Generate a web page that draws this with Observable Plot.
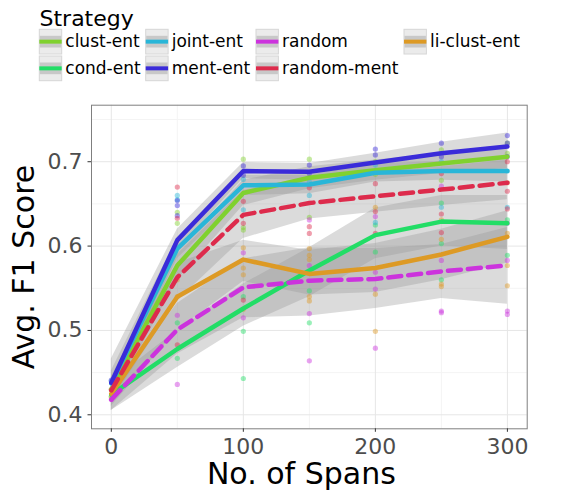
<!DOCTYPE html>
<html>
<head>
<meta charset="utf-8">
<script src="https://cdn.jsdelivr.net/npm/d3@7"></script>
<script src="https://cdn.jsdelivr.net/npm/@observablehq/plot@0.6"></script>
<style>
  html, body { margin: 0; padding: 0; background: white; }
  #wrap { position: relative; width: 564px; height: 493px; font-family: "DejaVu Sans", sans-serif; }
  #legend { position: absolute; left: 0; top: 0; }
  #chart { position: absolute; left: 0; top: 88px; }
</style>
</head>
<body>
<div id="wrap"><div id="legend"></div><div id="chart"></div></div>
<script>
const spans = [0, 50, 100, 150, 200, 250, 300];
const strategies = ["clust-ent", "cond-ent", "joint-ent", "ment-ent", "random", "random-ment", "li-clust-ent"];
const colors = ["#80d12f", "#22dd66", "#29b6d8", "#3a2bd9", "#cc33dd", "#dd2b4c", "#dd9a25"];
const dashed = ["random", "random-ment"];

// mean F1 per strategy
const clustEnt   = [0.430, 0.577, 0.663, 0.681, 0.690, 0.698, 0.706];
const condEnt    = [0.424, 0.478, 0.526, 0.571, 0.613, 0.629, 0.627];
const jointEnt   = [0.437, 0.597, 0.672, 0.673, 0.687, 0.689, 0.689];
const mentEnt    = [0.438, 0.607, 0.689, 0.688, 0.699, 0.710, 0.718];
const randomS    = [0.418, 0.501, 0.551, 0.559, 0.561, 0.570, 0.577];
const randomMent = [0.429, 0.563, 0.637, 0.651, 0.659, 0.667, 0.675];
const liClustEnt = [0.425, 0.540, 0.584, 0.567, 0.574, 0.590, 0.611];

// ribbon bounds
const clustEntLo   = [0.415, 0.560, 0.648, 0.668, 0.678, 0.686, 0.692];
const clustEntHi   = [0.445, 0.594, 0.678, 0.694, 0.702, 0.710, 0.720];
const condEntLo    = [0.405, 0.456, 0.505, 0.540, 0.585, 0.600, 0.596];
const condEntHi    = [0.440, 0.500, 0.555, 0.598, 0.645, 0.660, 0.660];
const jointEntLo   = [0.422, 0.585, 0.660, 0.662, 0.676, 0.678, 0.676];
const jointEntHi   = [0.452, 0.610, 0.684, 0.684, 0.698, 0.700, 0.702];
const mentEntLo    = [0.415, 0.595, 0.680, 0.678, 0.688, 0.697, 0.702];
const mentEntHi    = [0.466, 0.620, 0.699, 0.698, 0.710, 0.723, 0.734];
const randomLo     = [0.405, 0.472, 0.515, 0.517, 0.526, 0.538, 0.531];
const randomHi     = [0.432, 0.532, 0.585, 0.598, 0.597, 0.602, 0.622];
const randomMentLo = [0.416, 0.535, 0.609, 0.632, 0.640, 0.648, 0.655];
const randomMentHi = [0.442, 0.590, 0.666, 0.682, 0.688, 0.694, 0.702];
const liClustEntLo = [0.410, 0.500, 0.558, 0.542, 0.545, 0.560, 0.580];
const liClustEntHi = [0.440, 0.580, 0.607, 0.595, 0.603, 0.620, 0.642];

// individual runs [span, f1]
const ptsClustEnt = [[0,0.430],[50,0.627],[50,0.640],[100,0.703],[100,0.622],[100,0.619],[150,0.703],[150,0.634],[200,0.700],[200,0.685],[250,0.714],[250,0.678],[300,0.722],[300,0.710]];
const ptsCondEnt = [[0,0.422],[50,0.509],[50,0.467],[100,0.540],[100,0.499],[100,0.443],[150,0.547],[150,0.509],[200,0.625],[200,0.593],[250,0.651],[250,0.603],[250,0.560],[300,0.631],[300,0.589]];
const ptsJointEnt = [[0,0.440],[50,0.660],[50,0.655],[100,0.679],[100,0.643],[150,0.676],[150,0.660],[200,0.696],[200,0.628],[250,0.700],[250,0.646],[300,0.689],[300,0.646]];
const ptsMentEnt = [[0,0.441],[50,0.654],[50,0.648],[50,0.636],[100,0.695],[100,0.684],[150,0.686],[150,0.696],[200,0.715],[200,0.708],[250,0.722],[250,0.706],[300,0.731],[300,0.706],[300,0.722]];
const ptsRandom = [[0,0.418],[50,0.518],[50,0.436],[100,0.515],[100,0.592],[150,0.631],[150,0.520],[150,0.464],[150,0.577],[200,0.635],[200,0.549],[200,0.479],[200,0.569],[250,0.671],[250,0.583],[250,0.523],[250,0.521],[300,0.627],[300,0.583],[300,0.523],[300,0.519]];
const ptsRandomMent = [[0,0.430],[50,0.670],[50,0.633],[50,0.483],[100,0.653],[100,0.536],[100,0.627],[150,0.623],[150,0.615],[150,0.669],[200,0.641],[200,0.674],[200,0.615],[250,0.686],[250,0.638],[250,0.616],[300,0.700],[300,0.665],[300,0.644]];
const ptsLiClustEnt = [[0,0.421],[50,0.540],[50,0.560],[100,0.598],[100,0.574],[100,0.566],[100,0.525],[150,0.597],[150,0.589],[150,0.584],[150,0.540],[150,0.535],[200,0.646],[200,0.543],[200,0.499],[250,0.631],[250,0.608],[250,0.555],[250,0.552],[300,0.675],[300,0.577],[300,0.553],[300,0.615]];

const xTicks = [0, 100, 200, 300];
const xMinor = [50, 150, 250];
const yTicks = [0.4, 0.5, 0.6, 0.7];
const yMinor = [0.45, 0.55, 0.65, 0.75];

const means = [clustEnt, condEnt, jointEnt, mentEnt, randomS, randomMent, liClustEnt];
const los = [clustEntLo, condEntLo, jointEntLo, mentEntLo, randomLo, randomMentLo, liClustEntLo];
const his = [clustEntHi, condEntHi, jointEntHi, mentEntHi, randomHi, randomMentHi, liClustEntHi];
const pts = [ptsClustEnt, ptsCondEnt, ptsJointEnt, ptsMentEnt, ptsRandom, ptsRandomMent, ptsLiClustEnt];

const rows = [];
strategies.forEach((s, i) => spans.forEach((x, j) => rows.push({strategy: s, span: x, f1: means[i][j], lo: los[i][j], hi: his[i][j]})));
const points = [];
strategies.forEach((s, i) => pts[i].forEach(([x, v]) => points.push({strategy: s, span: x, f1: v})));

const solidRows = rows.filter(d => !dashed.includes(d.strategy));
const dashedRows = rows.filter(d => dashed.includes(d.strategy));

const chart = Plot.plot({
  width: 564, height: 405,
  marginTop: 16.7, marginBottom: 64.7, marginLeft: 91, marginRight: 37.3,
  x: {domain: [-15, 315]},
  y: {domain: [0.3834, 0.767]},
  color: {domain: strategies, range: colors},
  style: {fontFamily: "DejaVu Sans", background: "white"},
  marks: [
    Plot.gridX(xMinor, {stroke: "#f4f4f4", strokeOpacity: 1}),
    Plot.gridY(yMinor, {stroke: "#f4f4f4", strokeOpacity: 1}),
    Plot.gridX(xTicks, {stroke: "#e6e6e6", strokeOpacity: 1}),
    Plot.gridY(yTicks, {stroke: "#e6e6e6", strokeOpacity: 1}),
    Plot.areaY(rows, {x: "span", y1: "lo", y2: "hi", z: "strategy", fill: "#999", fillOpacity: 0.35}),
    Plot.dot(points, {x: "span", y: "f1", fill: "strategy", r: 2.6, fillOpacity: 0.45}),
    Plot.line(solidRows, {x: "span", y: "f1", z: "strategy", stroke: "strategy", strokeWidth: 4.5}),
    Plot.line(dashedRows, {x: "span", y: "f1", z: "strategy", stroke: "strategy", strokeWidth: 4.5, strokeDasharray: "13,7"}),
    Plot.frame({stroke: "#7f7f7f"}),
    Plot.axisX(xTicks, {tickSize: 3.5, tickPadding: 6.5, fontSize: 22, fill: "#4d4d4d", stroke: "#333", label: null}),
    Plot.axisY(yTicks, {tickSize: 3.5, tickPadding: 5.5, fontSize: 22, fill: "#4d4d4d", stroke: "#333", tickFormat: d3.format(".1f"), label: null}),
    Plot.text(["No. of Spans"], {frameAnchor: "bottom", dx: -8, dy: 55.3, fontSize: 30, fill: "black", textAnchor: "middle"}),
    Plot.text(["Avg. F1 Score"], {frameAnchor: "left", rotate: -90, dx: -67.3, fontSize: 30, fill: "black", textAnchor: "middle"})
  ]
});
document.getElementById("chart").appendChild(chart);

// legend
const leg = d3.select("#legend").append("svg").attr("width", 564).attr("height", 88)
  .style("font-family", "DejaVu Sans");
leg.append("text").attr("x", 39.5).attr("y", 26).attr("font-size", 22).attr("fill", "black").text("Strategy");
const colX = [39.3, 145.7, 256, 404];
const rowY = [29.3, 56];
strategies.forEach((s, i) => {
  const c = Math.floor(i / 2), r = i % 2;
  const x = colX[c], y = rowY[r];
  const g = leg.append("g").attr("transform", `translate(${x},${y})`);
  g.append("rect").attr("width", 22.4).attr("height", 24.7).attr("fill", "#ebebeb").attr("stroke", "#d6d6d6").attr("stroke-width", 1);
  g.append("rect").attr("x", 0.5).attr("y", 6.5).attr("width", 21.4).attr("height", 11.7).attr("fill", "#c8c8c8");
  g.append("line").attr("x1", 0).attr("x2", 22.4).attr("y1", 12.35).attr("y2", 12.35)
    .attr("stroke", colors[i]).attr("stroke-width", 4);
  leg.append("text").attr("x", x + 26).attr("y", y + 17.6).attr("font-size", 17).attr("fill", "black").text(s);
});
</script>
</body>
</html>
